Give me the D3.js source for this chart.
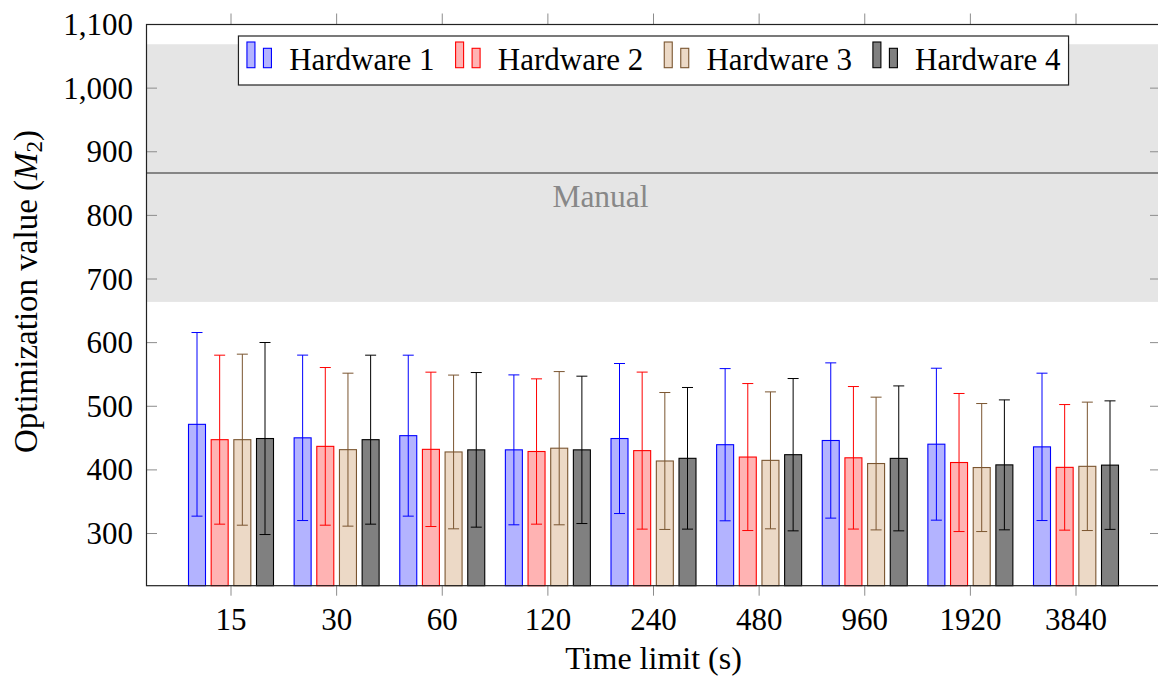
<!DOCTYPE html>
<html>
<head>
<meta charset="utf-8">
<script src="https://cdn.jsdelivr.net/npm/d3@7/dist/d3.min.js"></script>
<style>
  html, body { margin: 0; padding: 0; background: #fff; }
  svg { display: block; font-family: "Liberation Serif", "Times New Roman", serif; }
</style>
</head>
<body>
<svg id="chart" width="1158" height="679"></svg>
<script>
// Time limits (seconds) on the x axis
const categories = ["15", "30", "60", "120", "240", "480", "960", "1920", "3840"];
const seriesNames = ["Hardware 1", "Hardware 2", "Hardware 3", "Hardware 4"];

// Mean optimization value per time limit, and its standard deviation
const hw1Mean = [471.6, 450.4, 453.8, 431.5, 449.3, 439.6, 446.2, 440.4, 436.2];
const hw1Std  = [144.3, 130.0, 126.5, 117.8, 117.9, 119.6, 122.0, 119.4, 115.8];
const hw2Mean = [447.5, 437.0, 432.3, 428.9, 430.3, 420.2, 419.0, 411.6, 404.0];
const hw2Std  = [132.8, 123.9, 121.3, 114.2, 123.4, 115.5, 112.0, 108.5, 98.7];
const hw3Mean = [447.5, 431.8, 428.2, 434.1, 414.0, 415.0, 410.0, 403.7, 405.6];
const hw3Std  = [134.4, 120.2, 120.8, 120.4, 107.6, 107.6, 104.3, 100.6, 100.9];
const hw4Mean = [449.3, 447.5, 431.5, 431.5, 418.2, 423.9, 418.1, 407.9, 407.5];
const hw4Std  = [150.9, 132.8, 121.5, 115.8, 111.3, 119.7, 113.9, 102.1, 101.0];

// Manual reference: mean and standard deviation band
const manualMean = 866.5;
const manualStd = 202.5;

const yTicks = [300, 400, 500, 600, 700, 800, 900, 1000, 1100];

const seriesMeans = [hw1Mean, hw2Mean, hw3Mean, hw4Mean];
const seriesStds = [hw1Std, hw2Std, hw3Std, hw4Std];
const fills = ["#b3b3ff", "#ffb3b3", "#ecd9c6", "#808080"];
const strokes = ["#0000ff", "#ff0000", "#7a5530", "#000000"];

const svg = d3.select("#chart");
const plotLeft = 146.5, plotRight = 1160.5, plotTop = 24.5, plotBottom = 585.7;

const x = d3.scaleLinear().domain([-0.8, categories.length - 1 + 0.8]).range([plotLeft, plotRight]);
const y = d3.scaleLinear().domain([218, 1100]).range([plotBottom, plotTop]);
const offset = d3.scalePoint().domain(seriesNames).range([-34, 34]);
const barW = 17;

// Manual band and line
svg.append("rect")
  .attr("x", plotLeft).attr("width", plotRight - plotLeft)
  .attr("y", y(manualMean + manualStd))
  .attr("height", y(manualMean - manualStd) - y(manualMean + manualStd))
  .attr("fill", "#e5e5e5");
svg.append("line")
  .attr("x1", plotLeft).attr("x2", plotRight)
  .attr("y1", y(manualMean)).attr("y2", y(manualMean))
  .attr("stroke", "#858585").attr("stroke-width", 2);
svg.append("text")
  .attr("x", 600.5).attr("y", y(manualMean) + 34)
  .attr("text-anchor", "middle")
  .attr("font-size", 31.5).attr("fill", "#888")
  .text("Manual");

// Bars with error bars
seriesNames.forEach((name, s) => {
  const g = svg.append("g");
  const data = categories.map((c, i) => ({ i, m: seriesMeans[s][i], sd: seriesStds[s][i] }));
  g.selectAll("rect").data(data).join("rect")
    .attr("x", d => x(d.i) + offset(name) - barW / 2)
    .attr("width", barW)
    .attr("y", d => y(d.m))
    .attr("height", d => plotBottom - y(d.m))
    .attr("fill", fills[s])
    .attr("stroke", strokes[s]).attr("stroke-width", 1.1);
  const eb = g.selectAll("g.err").data(data).join("g").attr("class", "err")
    .attr("stroke", strokes[s]).attr("stroke-width", 1);
  eb.append("line")
    .attr("x1", d => x(d.i) + offset(name)).attr("x2", d => x(d.i) + offset(name))
    .attr("y1", d => y(d.m + d.sd)).attr("y2", d => y(d.m - d.sd));
  [1, -1].forEach(sign => {
    eb.append("line")
      .attr("x1", d => x(d.i) + offset(name) - 5.5).attr("x2", d => x(d.i) + offset(name) + 5.5)
      .attr("y1", d => y(d.m + sign * d.sd)).attr("y2", d => y(d.m + sign * d.sd));
  });
});

// Ticks
const tickColor = "#8c8c8c";
svg.append("g").selectAll("line").data(yTicks).join("line")
  .attr("x1", plotLeft).attr("x2", plotLeft + 10.5)
  .attr("y1", d => y(d)).attr("y2", d => y(d))
  .attr("stroke", tickColor);
svg.append("g").selectAll("line").data(yTicks).join("line")
  .attr("x1", plotRight - 10.5).attr("x2", plotRight)
  .attr("y1", d => y(d)).attr("y2", d => y(d))
  .attr("stroke", tickColor);
svg.append("g").selectAll("line").data(categories).join("line")
  .attr("x1", (d, i) => x(i)).attr("x2", (d, i) => x(i))
  .attr("y1", plotBottom).attr("y2", plotBottom + 10)
  .attr("stroke", tickColor);
svg.append("g").selectAll("line").data(categories).join("line")
  .attr("x1", (d, i) => x(i)).attr("x2", (d, i) => x(i))
  .attr("y1", plotTop).attr("y2", plotTop - 11)
  .attr("stroke", tickColor);

// Frame
svg.append("rect")
  .attr("x", plotLeft).attr("y", plotTop)
  .attr("width", plotRight - plotLeft).attr("height", plotBottom - plotTop)
  .attr("fill", "none").attr("stroke", "#222").attr("stroke-width", 1.2);

// Tick labels
const fmt = d3.format(",");
svg.append("g").selectAll("text").data(yTicks).join("text")
  .attr("x", 133).attr("y", d => y(d) + 10.5)
  .attr("text-anchor", "end").attr("font-size", 31)
  .text(d => fmt(d));
svg.append("g").selectAll("text").data(categories).join("text")
  .attr("x", (d, i) => x(i)).attr("y", 630)
  .attr("text-anchor", "middle").attr("font-size", 31)
  .text(d => d);

// Axis titles
svg.append("text")
  .attr("x", (plotLeft + plotRight) / 2).attr("y", 669)
  .attr("text-anchor", "middle").attr("font-size", 32)
  .text("Time limit (s)");
const yl = svg.append("text")
  .attr("transform", "translate(37, 291.5) rotate(-90)")
  .attr("text-anchor", "middle").attr("font-size", 33);
yl.append("tspan").text("Optimization value (");
yl.append("tspan").attr("font-style", "italic").text("M");
yl.append("tspan").attr("font-size", 23).attr("dy", 5).text("2");
yl.append("tspan").attr("dy", -5).text(")");

// Legend
const lg = svg.append("g");
const box = lg.append("rect")
  .attr("y", 36).attr("height", 49)
  .attr("fill", "#fff").attr("stroke", "#222").attr("stroke-width", 1.2);
let cursor = 0;
const items = lg.append("g");
seriesNames.forEach((name, s) => {
  const it = items.append("g").attr("transform", `translate(${cursor},0)`);
  it.append("rect").attr("x", 0.5).attr("y", 42).attr("width", 8).attr("height", 25.7)
    .attr("fill", fills[s]).attr("stroke", strokes[s]).attr("stroke-width", 1.1);
  it.append("rect").attr("x", 17).attr("y", 48.3).attr("width", 8).attr("height", 19.4)
    .attr("fill", fills[s]).attr("stroke", strokes[s]).attr("stroke-width", 1.1);
  const t = it.append("text").attr("x", 42.7).attr("y", 70).attr("font-size", 31).text(name);
  cursor += 42.7 + t.node().getComputedTextLength() + 20.5;
});
const itemsW = cursor - 20.5;
const boxW = itemsW + 16;
const boxX = (plotLeft + plotRight) / 2 - boxW / 2;
box.attr("x", boxX).attr("width", boxW);
items.attr("transform", `translate(${boxX + 8},0)`);
</script>
</body>
</html>
